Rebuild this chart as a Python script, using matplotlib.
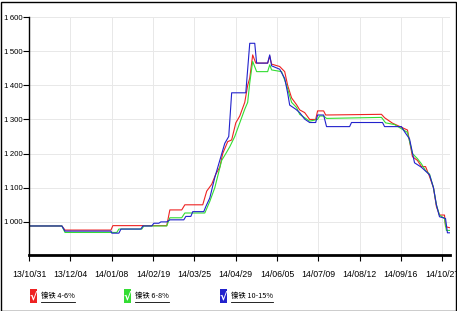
import matplotlib
matplotlib.use("Agg")
import matplotlib.pyplot as plt
from matplotlib.patches import Rectangle
from matplotlib.lines import Line2D

plt.rcParams['font.family'] = ['Liberation Sans Narrow', 'Liberation Sans', 'DejaVu Sans']

# x = trading-day index, one tick label every 24 days
tick_labels = ['13/10/31', '13/12/04', '14/01/08', '14/02/19', '14/03/25', '14/04/29',
               '14/06/05', '14/07/09', '14/08/12', '14/09/16', '14/10/27']
tick_step = 24
y_ticks = [1000, 1100, 1200, 1300, 1400, 1500, 1600]

names = ['镍铁 4-6%', '镍铁 6-8%', '镍铁 10-15%']
colors = ['#ee2222', '#33dd33', '#2222cc']

red_x = [0, 19.1, 20.9, 47.6, 48.7, 80.0, 81.8, 88.7, 90.5, 100.9, 103.2, 106.1, 108.5,
         110.8, 112.5, 115.4, 117.7, 120.1, 122.4, 125.3, 127.0, 128.2, 129.9, 131.7,
         138.6, 139.8, 140.9, 145.6, 148.5, 150.2, 152.5, 155.4, 157.2, 160.1, 163.0,
         166.5, 167.6, 171.1, 172.3, 204.7, 206.5, 211.1, 219.8, 222.7, 225.6, 227.9,
         230.3, 232.6, 234.9, 236.6, 238.4, 241.3, 241.9, 244.2]
red_y = [988, 988, 976, 976, 989, 989, 1035, 1035, 1050, 1050, 1090, 1110, 1140,
         1160, 1200, 1235, 1240, 1290, 1310, 1350, 1400, 1421, 1489, 1465,
         1465, 1485, 1462, 1455, 1440, 1400, 1363, 1343, 1328, 1320, 1300,
         1300, 1325, 1325, 1313, 1315, 1305, 1289, 1269, 1191, 1180, 1162,
         1162, 1133, 1100, 1045, 1020, 1020, 986, 983]

green_x = [0, 19.1, 20.9, 51.0, 52.2, 65.5, 66.7, 80.0, 81.8, 88.7, 90.5, 102.1, 105.0,
           107.9, 111.9, 114.3, 116.6, 119.5, 122.4, 125.3, 127.0, 128.2, 129.9, 132.2,
           138.6, 139.8, 140.9, 146.7, 149.6, 152.5, 155.4, 157.2, 160.1, 163.0, 167.6,
           168.8, 171.1, 172.8, 204.7, 207.1, 212.3, 219.8, 222.7, 225.6, 227.9, 230.3,
           232.6, 234.9, 236.6, 238.4, 241.3, 242.4, 244.2]
green_y = [988, 988, 969, 969, 979, 979, 988, 988, 1012, 1012, 1026, 1026, 1060,
           1100, 1180, 1200, 1220, 1250, 1290, 1330, 1350, 1407, 1470, 1440,
           1440, 1460, 1445, 1440, 1400, 1350, 1335, 1315, 1305, 1295, 1300,
           1310, 1310, 1303, 1306, 1290, 1285, 1262, 1200, 1185, 1170, 1150,
           1140, 1100, 1050, 1020, 1010, 975, 975]

blue_x = [0, 19.1, 20.9, 47.6, 48.1, 52.2, 53.4, 65.0, 66.1, 71.3, 72.5, 75.4, 76.6,
          80.0, 81.8, 89.9, 91.1, 94.0, 95.1, 101.5, 102.7, 105.0, 107.9, 110.8, 113.7,
          116.0, 117.7, 125.9, 128.2, 131.1, 132.2, 138.6, 139.8, 140.9, 145.6, 148.5,
          150.2, 151.4, 154.9, 157.2, 160.1, 163.0, 166.5, 167.6, 171.1, 172.8, 186.2,
          187.3, 205.3, 206.5, 216.3, 218.1, 221.0, 223.9, 227.9, 232.6, 234.9, 236.6,
          238.4, 241.9, 243.0, 244.2]
blue_y = [988, 988, 973, 973, 967, 967, 979, 979, 988, 988, 996, 996, 1000,
          1000, 1006, 1006, 1016, 1016, 1030, 1030, 1045, 1070, 1130, 1180, 1230,
          1250, 1378, 1378, 1523, 1523, 1465, 1465, 1489, 1457, 1447, 1420,
          1378, 1342, 1330, 1320, 1301, 1291, 1291, 1313, 1313, 1279, 1279,
          1291, 1291, 1279, 1279, 1264, 1243, 1173, 1160, 1138, 1100, 1050,
          1015, 1010, 968, 968]

fig = plt.figure(figsize=(4.57, 3.11), dpi=100)
ax = fig.add_axes([29 / 457, 56 / 311, 421 / 457, 238 / 311])

for xs, ys, c in [(red_x, red_y, colors[0]), (green_x, green_y, colors[1]),
                  (blue_x, blue_y, colors[2])]:
    ax.plot(xs, ys, color=c, lw=0.8)

ax.set_xlim(0, 244.5)
ax.set_ylim(903, 1600)
ax.set_xticks([i * tick_step for i in range(len(tick_labels))])
ax.set_xticklabels(tick_labels, fontsize=6.3)
ax.set_yticks(y_ticks)
ax.set_yticklabels(['{:,}'.format(v).replace(',', '\u2009') for v in y_ticks], fontsize=5.6)
ax.grid(color='#e8e8e8', lw=0.7)
ax.set_axisbelow(True)
for s in ['top', 'right']:
    ax.spines[s].set_visible(False)
ax.spines['left'].set_linewidth(1.0)
ax.spines['bottom'].set_linewidth(2.0)
ax.tick_params(axis='y', length=4, width=0.8, pad=0.5)
ax.tick_params(axis='x', length=4, width=0.8, pad=7)

# legend boxes with check marks
box_x = [30, 124, 220]
for bx, name, c in zip(box_x, names, colors):
    fig.patches.append(Rectangle((bx / 457, 8 / 311), 7 / 457, 14 / 311,
                                 transform=fig.transFigure, facecolor=c,
                                 edgecolor='none'))
    fig.text((bx + 3.5) / 457, 14.5 / 311, '√', color='white', fontsize=8,
             ha='center', va='center', family=['DejaVu Sans'], weight='bold')
    t = fig.text((bx + 11) / 457, 15 / 311, name, fontsize=5.3, ha='left', va='center',
                 family=['Noto Sans CJK SC', 'DejaVu Sans'])
    fig.canvas.draw()
    bb = t.get_window_extent()
    fig.add_artist(Line2D([bb.x0 / 457, bb.x1 / 457], [9.5 / 311, 9.5 / 311],
                          transform=fig.transFigure, color='black', lw=0.6))

# outer frame
fig.patches.append(Rectangle((0.5 / 457, 0.5 / 311), 455.5 / 457, 309 / 311,
                             transform=fig.transFigure, fill=False,
                             edgecolor='black', lw=1.0))

fig.savefig('out.png', dpi=100)
